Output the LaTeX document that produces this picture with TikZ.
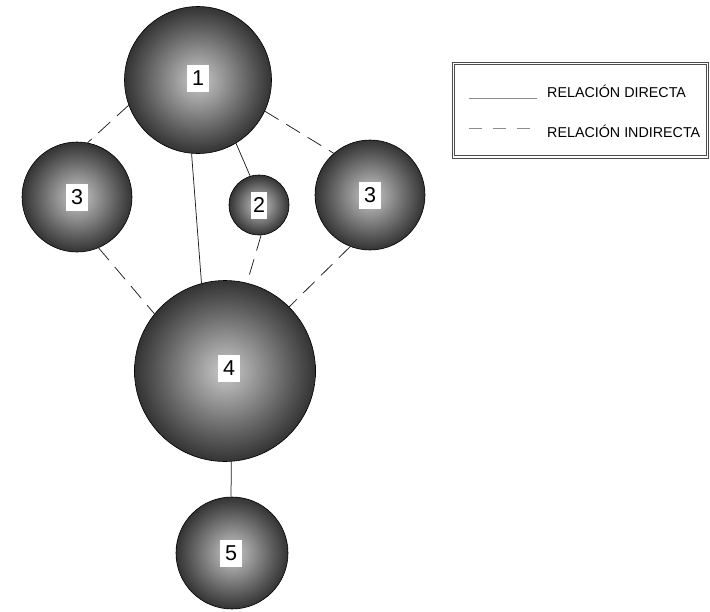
\documentclass[tikz,border=0pt]{standalone}
\usepackage{fontspec}
\setmainfont{Liberation Sans}
\definecolor{g0}{gray}{0.79}
\definecolor{g1}{gray}{0.59}
\definecolor{g2}{gray}{0.37}
\definecolor{g3}{gray}{0.19}
\definecolor{g4}{gray}{0.06}
\definecolor{g5}{gray}{0.0}
\definecolor{lnc}{gray}{0.12}
\definecolor{lgc}{gray}{0.55}
\pgfdeclareradialshading{spheregrad}{\pgfpoint{0bp}{0bp}}{color(0bp)=(g0); color(8.5bp)=(g1); color(17.7bp)=(g2); color(25.5bp)=(g3); color(31bp)=(g4); color(35bp)=(g5); color(50bp)=(g5)}
\begin{document}
\begin{tikzpicture}[x=1pt,y=-1pt,
  ball/.style={circle, inner sep=0pt, shading=spheregrad, draw=black, line width=0.6pt},
  lbl/.style={fill=white, inner xsep=5pt, inner ysep=0pt, minimum height=27pt, font=\fontsize{21.5}{22}\selectfont},
  solidcon/.style={draw=lnc, line width=0.75pt},
  dashcon/.style={draw=lnc, line width=0.75pt, dash pattern=on 16pt off 9pt},
  legtext/.style={anchor=base west, font=\fontsize{14.3}{15}\selectfont, inner sep=0pt}
]
\useasboundingbox (0,0) rectangle (710,611);
% spheres
\node[ball, minimum size=147pt] (s1) at (198,80) {};
\node[ball, minimum size=110pt] (s3a) at (77,197) {};
\node[ball, minimum size=60pt] (s2) at (259,205) {};
\node[ball, minimum size=110pt] (s3b) at (370,195) {};
\node[ball, minimum size=181pt] (s4) at (225,371) {};
\node[ball, minimum size=112pt] (s5) at (232,553) {};
% connectors
\draw[dashcon] (s1.200) -- (s3a.79);
\draw[dashcon] (s1.335) -- (s3b.131);
\draw[solidcon] (s1.265) -- (s4.105);
\draw[solidcon] (s1.301) -- (s2.107);
\draw[dashcon] (s2.274) -- (s4.76);
\draw[dashcon] (s3a.293) -- (s4.141);
\draw[dashcon] (s3b.249) -- (s4.45);
\draw[solidcon] (s4.274) -- (s5.91);
% labels
\node[lbl] (l1) at (198,78) {1};
\node[lbl] (l3a) at (77,197) {3};
\node[lbl, inner xsep=2pt] (l2) at (259,205) {2};
\node[lbl] (l3b) at (370,195) {3};
\node[lbl] (l4) at (229,368) {4};
\node[lbl] (l5) at (231,553) {5};
% legend
\coordinate (lg1) at (453.5,63.5);
\coordinate (lg2) at (707.5,157);
\draw[draw=gray!60!black, line width=0.8pt, double=white, double distance=1.6pt] (lg1) rectangle (lg2);
\coordinate (da) at (469,98);
\coordinate (db) at (537,98);
\coordinate (ia) at (469,128);
\coordinate (ib) at (537,128);
\draw[draw=lgc, line width=0.6pt] (da) -- (db);
\draw[draw=lgc, line width=0.6pt, dash pattern=on 13pt off 11pt] (ia) -- (ib);
\node[legtext] (t1) at (547,97) {RELACIÓN DIRECTA};
\node[legtext] (t2) at (547,137) {RELACIÓN INDIRECTA};
\end{tikzpicture}
\end{document}
